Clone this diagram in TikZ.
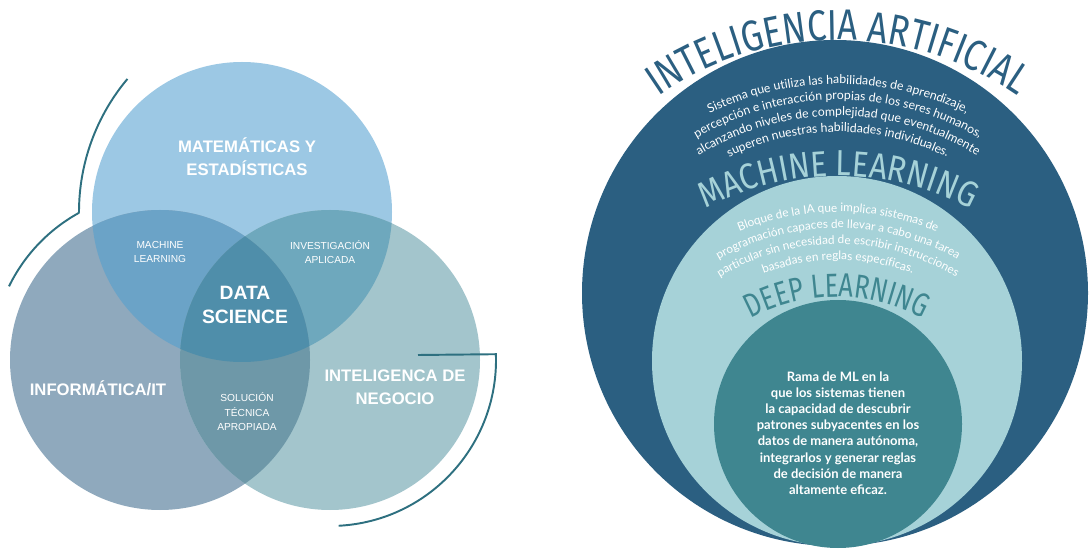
\documentclass[tikz,border=0pt]{standalone}
\usepackage{fontspec}
\setmainfont{Liberation Sans}
\newfontfamily\bodyfont{Lato}
\newfontfamily\aifont[FakeStretch=0.8]{Fira Sans}
\newfontfamily\mlfont[FakeStretch=0.86]{Fira Sans}
\newfontfamily\dlfont[FakeStretch=0.76]{Fira Sans}
\usepackage{xcolor}
\usetikzlibrary{decorations.text}

% venn colours
\definecolor{mates}{HTML}{9CC8E4}
\definecolor{infor}{HTML}{8FA9BD}
\definecolor{negoc}{HTML}{A3C5CC}
\definecolor{mlcol}{HTML}{6BA3C7}
\definecolor{invcol}{HTML}{6EA8BD}
\definecolor{solcol}{HTML}{6E98A8}
\definecolor{dscol}{HTML}{4F8EAA}
\definecolor{decoline}{HTML}{2E7080}
% nested circles
\definecolor{iablue}{HTML}{2B5F81}
\definecolor{mlcyan}{HTML}{A6D2D8}
\definecolor{dlteal}{HTML}{3F8690}

\begin{document}
\begin{tikzpicture}[x=0.02cm, y=0.02cm,
  venntxt/.style={text=white, font=\bfseries\fontsize{9.5}{13}\selectfont, align=center},
  smalltxt/.style={text=white, font=\fontsize{5.8}{8.3}\selectfont, align=center},
  deco/.style={draw=decoline, line width=1.1pt},
  curved/.style={decorate, decoration={text along path, text align=center, text color=#1}}
]
  \useasboundingbox (0,0) rectangle (1089,548);

  % --- venn diagram ---
  \coordinate (cm) at (242,336);
  \coordinate (ci) at (160,188);
  \coordinate (cn) at (330,188);
  \fill[mates] (cm) circle[radius=150];
  \fill[infor] (ci) circle[radius=150];
  \fill[negoc] (cn) circle[radius=150];
  \begin{scope}
    \clip (cm) circle[radius=150];
    \fill[mlcol] (ci) circle[radius=150];
    \fill[invcol] (cn) circle[radius=150];
  \end{scope}
  \begin{scope}
    \clip (ci) circle[radius=150];
    \fill[solcol] (cn) circle[radius=150];
  \end{scope}
  \begin{scope}
    \clip (cm) circle[radius=150];
    \clip (ci) circle[radius=150];
    \fill[dscol] (cn) circle[radius=150];
  \end{scope}

  % side strokes
  \coordinate (bend) at (286,336);
  \draw[deco] ([shift={(140:207)}]bend) arc[start angle=140, end angle=180, radius=207]
    -- ([shift={(119:168)}]ci) arc[start angle=119, end angle=154, radius=168];
  \coordinate (tick) at (418,193);
  \draw[deco] (tick) -- ([shift={(2:166)}]cn) arc[start angle=2, end angle=-87, radius=166];

  \node[venntxt] (mat) at (247,391) {MATEMÁTICAS Y\\ESTADÍSTICAS};
  \node[venntxt] (inf) at (98,160) {INFORMÁTICA/IT};
  \node[venntxt] (neg) at (395,161) {INTELIGENCA DE\\NEGOCIO};
  \node[venntxt, font=\bfseries\fontsize{11}{13.3}\selectfont] (ds) at (245,243) {DATA\\SCIENCE};
  \node[smalltxt] (ml) at (160,296) {MACHINE\\LEARNING};
  \node[smalltxt] (inv) at (330,296) {INVESTIGACIÓN\\APLICADA};
  \node[smalltxt] (sol) at (247,136) {SOLUCIÓN\\TÉCNICA\\APROPIADA};

  % --- IA / ML / DL ---
  \fill[iablue] (835,255) circle[radius=253];
  \fill[mlcyan] (837,187) circle[radius=185];
  \fill[dlteal] (838,124) circle[radius=124];

  % titles
  \path[curved=iablue, decoration={text={|\aifont\fontsize{24.6}{25}\selectfont|INTELIGENCIA ARTIFICIAL}}]
    (838,193) ++(150:315) arc[start angle=150, end angle=30, radius=315];
  \path[curved=mlcyan, decoration={text={|\mlfont\fontsize{20.6}{21}\selectfont|MACHINE LEARNING}}]
    (838,89) ++(150:283) arc[start angle=150, end angle=30, radius=283];
  \path[curved=dlteal, decoration={text={|\dlfont\fontsize{19}{19}\selectfont|DEEP LEARNING}}]
    (837,70) ++(150:181) arc[start angle=150, end angle=30, radius=181];

  % IA text
  \path[curved=white, decoration={text={|\bodyfont\fontsize{7}{8}\selectfont|Sistema que utiliza las habilidades de aprendizaje,}}]
    (838,168) ++(160:296) arc[start angle=160, end angle=20, radius=296];
  \path[curved=white, decoration={text={|\bodyfont\fontsize{7}{8}\selectfont|percepción e interacción propias de los seres humanos,}}]
    (838,168) ++(160:280) arc[start angle=160, end angle=20, radius=280];
  \path[curved=white, decoration={text={|\bodyfont\fontsize{7}{8}\selectfont|alcanzando niveles de complejidad que eventualmente}}]
    (838,168) ++(160:264) arc[start angle=160, end angle=20, radius=264];
  \path[curved=white, decoration={text={|\bodyfont\fontsize{7}{8}\selectfont|superen nuestras habilidades individuales.}}]
    (838,168) ++(160:248) arc[start angle=160, end angle=20, radius=248];

  % ML text
  \path[curved=white, decoration={text={|\bodyfont\fontsize{6.7}{8}\selectfont|Bloque de la IA que implica sistemas de}}]
    (838,78) ++(160:258) arc[start angle=160, end angle=20, radius=258];
  \path[curved=white, decoration={text={|\bodyfont\fontsize{6.7}{8}\selectfont|programación capaces de llevar a cabo una tarea}}]
    (838,78) ++(160:242) arc[start angle=160, end angle=20, radius=242];
  \path[curved=white, decoration={text={|\bodyfont\fontsize{6.7}{8}\selectfont|particular sin necesidad de escribir instrucciones}}]
    (838,78) ++(160:226) arc[start angle=160, end angle=20, radius=226];
  \path[curved=white, decoration={text={|\bodyfont\fontsize{6.7}{8}\selectfont|basadas en reglas específicas.}}]
    (838,78) ++(160:210) arc[start angle=160, end angle=20, radius=210];

  % DL text
  \node[text=white, font=\bodyfont\bfseries\fontsize{7.4}{9.2}\selectfont, align=center] (rama) at (838,115)
    {Rama de ML en la\\que los sistemas tienen\\la capacidad de descubrir\\patrones subyacentes en los\\datos de manera autónoma,\\integrarlos y generar reglas\\de decisión de manera\\altamente eficaz.};
\end{tikzpicture}
\end{document}
